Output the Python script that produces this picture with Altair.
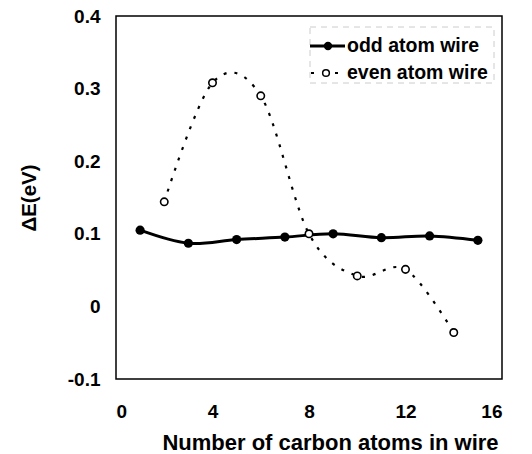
import altair as alt
import pandas as pd

odd_x = [1, 3, 5, 7, 9, 11, 13, 15]
odd_y = [0.105, 0.087, 0.092, 0.0955, 0.100, 0.0946, 0.097, 0.091]
even_x = [2, 4, 6, 8, 10, 12, 14]
even_y = [0.144, 0.308, 0.290, 0.100, 0.042, 0.051, -0.036]

x_ticks = [0, 4, 8, 12, 16]
y_ticks = [-0.1, 0, 0.1, 0.2, 0.3, 0.4]
legend_labels = ["odd atom wire", "even atom wire"]

FONT = "Liberation Sans"

odd = pd.DataFrame({"x": odd_x, "y": odd_y})
even = pd.DataFrame({"x": even_x, "y": even_y})

xs = alt.Scale(domain=[0, 16], nice=False, zero=False)
ys = alt.Scale(domain=[-0.1, 0.4], nice=False, zero=False)

xenc = alt.X("x:Q", scale=xs, axis=alt.Axis(
    values=x_ticks, title="Number of carbon atoms in wire", format="d",
    labelPadding=23, titlePadding=11, titleFontSize=22, titleX=214))
yenc = alt.Y("y:Q", scale=ys, axis=alt.Axis(
    values=y_ticks, title="ΔE(eV)",
    labelExpr="datum.value == 0 ? '0' : (datum.value < 0 ? '-' + format(-datum.value, '.1f') : format(datum.value, '.1f'))",
    labelPadding=16, titlePadding=28))

odd_line = alt.Chart(odd).mark_line(color="black", strokeWidth=3, interpolate="cardinal").encode(x=xenc, y=yenc)
odd_pts = alt.Chart(odd).mark_point(filled=True, color="black", size=85, opacity=1).encode(x="x:Q", y="y:Q")
even_line = alt.Chart(even).mark_line(color="black", strokeWidth=2.2, strokeDash=[3, 8], interpolate="cardinal").encode(x="x:Q", y="y:Q")
even_pts = alt.Chart(even).mark_point(filled=True, fill="white", stroke="black", strokeWidth=1.6, size=55, opacity=1).encode(x="x:Q", y="y:Q")

# manual legend
leg = pd.DataFrame({"label": legend_labels, "row": [0, 1]})
leg_box = alt.Chart(leg).transform_filter("datum.row == 0").mark_rect(
    fill="white", stroke="#cccccc", strokeWidth=1, strokeDash=[6, 5]).encode(
    x=alt.value(194), x2=alt.value(378), y=alt.value(11), y2=alt.value(67))
leg_text0 = alt.Chart(leg).transform_filter("datum.row == 0").mark_text(
    align="left", baseline="middle", font=FONT, fontSize=19.5, fontWeight="bold", color="black").encode(
    x=alt.value(231), y=alt.value(30), text="label:N")
leg_text1 = alt.Chart(leg).transform_filter("datum.row == 1").mark_text(
    align="left", baseline="middle", font=FONT, fontSize=19.5, fontWeight="bold", color="black").encode(
    x=alt.value(231), y=alt.value(57), text="label:N")
leg_rule0 = alt.Chart(leg).transform_filter("datum.row == 0").mark_rule(color="black", strokeWidth=3).encode(
    x=alt.value(194), x2=alt.value(229), y=alt.value(30))
leg_pt0 = alt.Chart(leg).transform_filter("datum.row == 0").mark_point(filled=True, color="black", size=70, opacity=1).encode(
    x=alt.value(212), y=alt.value(30))
leg_rule1 = alt.Chart(leg).transform_filter("datum.row == 1").mark_rule(color="black", strokeWidth=2, strokeDash=[3, 9]).encode(
    x=alt.value(195), x2=alt.value(228), y=alt.value(57))
leg_pt1 = alt.Chart(leg).transform_filter("datum.row == 1").mark_point(filled=True, fill="white", stroke="black", strokeWidth=1.5, size=45, opacity=1).encode(
    x=alt.value(210), y=alt.value(57))

chart = alt.layer(
    odd_line, even_line, odd_pts, even_pts,
    leg_box, leg_rule0, leg_pt0, leg_rule1, leg_pt1, leg_text0, leg_text1
).properties(
    width=386, height=363,
    autosize=alt.AutoSizeParams(type="none"),
    padding={"left": 116, "top": 16, "right": 30, "bottom": 75},
    background="white",
).configure_view(stroke="black", strokeWidth=1.5
).configure_axis(
    grid=False, ticks=False, domain=False,
    labelFont=FONT, labelFontSize=19, labelFontWeight="bold", labelColor="black",
    titleFont=FONT, titleFontSize=20.5, titleFontWeight="bold", titleColor="black",
)

chart.save("out.html", embed_options={"renderer": "svg", "actions": False})
